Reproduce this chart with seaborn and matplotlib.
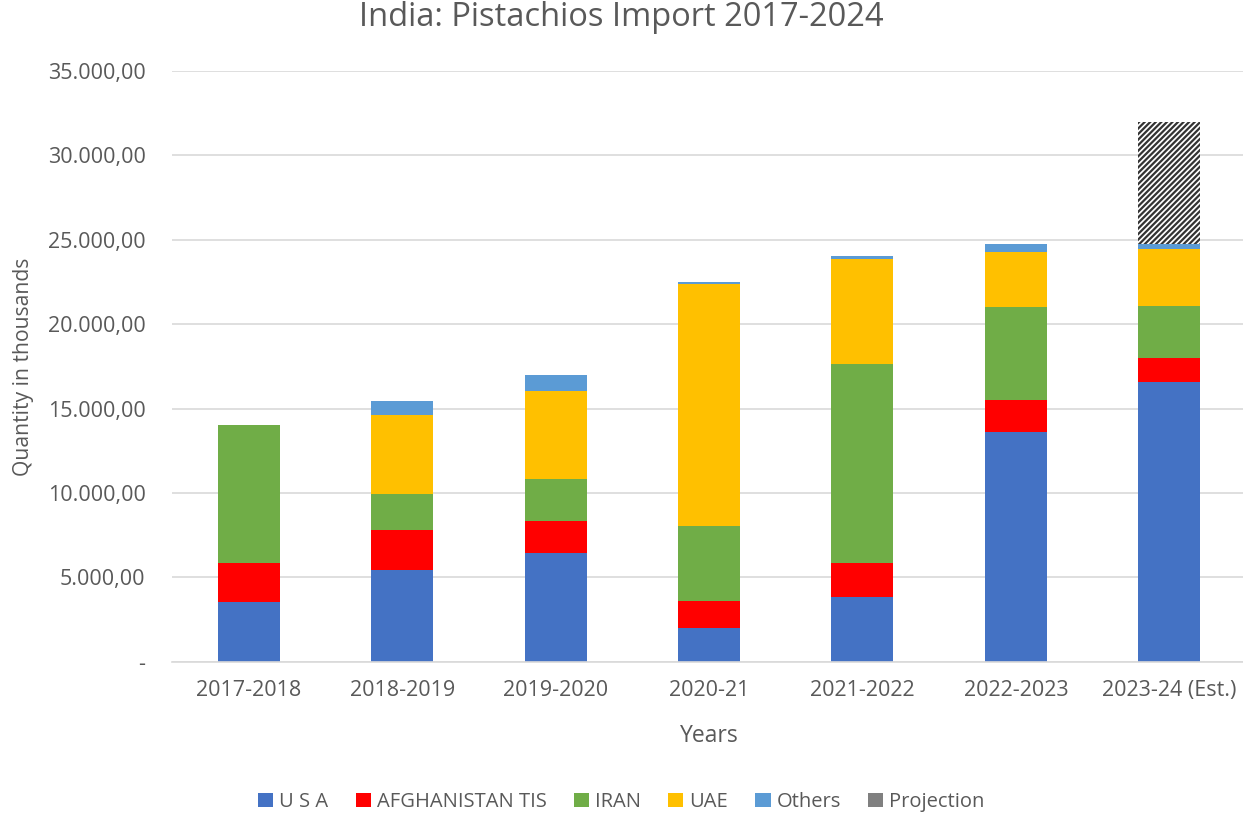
import matplotlib
matplotlib.use("Agg")
import matplotlib.pyplot as plt
import matplotlib.patches as mpatches
import seaborn as sns
import numpy as np
import pandas as pd

years = ["2017-2018", "2018-2019", "2019-2020", "2020-21", "2021-2022", "2022-2023", "2023-24 (Est.)"]
usa = [3540, 5460, 6430, 2000, 3820, 13610, 16590]
afghanistan = [2310, 2330, 1900, 1620, 2050, 1870, 1380]
iran = [8170, 2160, 2520, 4450, 11750, 5520, 3130]
uae = [0, 4640, 5210, 14310, 6250, 3300, 3380]
others = [0, 850, 920, 140, 190, 420, 250]
projection = [0, 0, 0, 0, 0, 0, 7270]

series_names = ["U S A", "AFGHANISTAN TIS", "IRAN", "UAE", "Others", "Projection"]
series_values = [usa, afghanistan, iran, uae, others, projection]
colors = ["#4472C4", "#FF0000", "#70AD47", "#FFC000", "#5B9BD5", "white"]

sns.set_theme(style="white")
plt.rcParams['font.family'] = ['Open Sans', 'DejaVu Sans']
plt.rcParams['hatch.linewidth'] = 1.6
plt.rcParams['hatch.color'] = '#333333'

fig = plt.figure(figsize=(12.43, 8.17), dpi=100)
ax = fig.add_axes([172/1243, 1 - 661.7/817, (1246-172)/1243, (661.7-71)/817])

bottom = np.zeros(len(years))
for name, vals, col in zip(series_names, series_values, colors):
    df = pd.DataFrame({"Year": years, "value": vals})
    if name == "Projection":
        sns.barplot(data=df, x="Year", y="value", color=col, width=0.405, ax=ax,
                    bottom=bottom, hatch="//////", edgecolor="#333333", linewidth=0,
                    saturation=1, errorbar=None)
    else:
        sns.barplot(data=df, x="Year", y="value", color=col, width=0.405, ax=ax,
                    bottom=bottom, saturation=1, errorbar=None, linewidth=0)
    bottom = bottom + np.array(vals)

ax.set_ylim(0, 35000)
ax.set_xlim(-0.5, len(years) - 0.5)
ticks = np.arange(0, 35001, 5000)
ax.set_yticks(ticks)
def fmt(v):
    if v == 0:
        return "-"
    s = f"{int(v):,}".replace(",", ".")
    return s + ",00"
ax.set_yticklabels([fmt(t) for t in ticks])
ax.yaxis.grid(True, color="#D9D9D9", linewidth=1.2)
ax.set_axisbelow(True)
for s in ["top", "right", "left"]:
    ax.spines[s].set_visible(False)
ax.spines["bottom"].set_color("#D9D9D9")
ax.spines["bottom"].set_linewidth(1.2)
ax.tick_params(axis="both", length=0, labelsize=15.5, labelcolor="#595959")
ax.tick_params(axis="y", pad=19)
ax.tick_params(axis="x", pad=13)
ax.set_xlabel("Years", fontsize=16.5, color="#595959", labelpad=17)
ax.set_ylabel("Quantity in thousands", fontsize=15.2, color="#595959", labelpad=10)
fig.text(0.5, 1 - 18/817, "India: Pistachios Import 2017-2024", ha="center", va="center",
         fontsize=23.5, color="#595959")

handles = []
for name, col in zip(series_names, colors):
    if name == "Projection":
        handles.append(mpatches.Patch(facecolor="#808080", edgecolor="none", label=name))
    else:
        handles.append(mpatches.Patch(facecolor=col, edgecolor="none", label=name))
fig.legend(handles=handles, loc="center", bbox_to_anchor=(0.5, 1 - 802/817), ncol=6,
           frameon=False, fontsize=14.5, handlelength=0.75, handleheight=0.75,
           handletextpad=0.3, columnspacing=1.35, labelcolor="#595959")

fig.savefig("out.png", dpi=100)
